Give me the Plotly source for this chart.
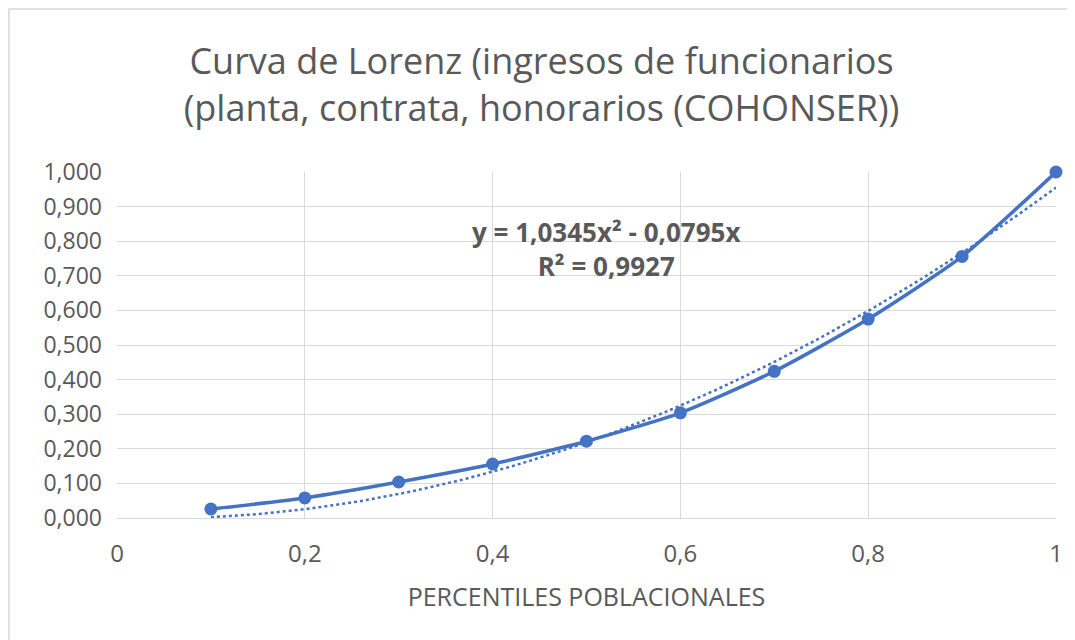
import numpy as np
import plotly.graph_objects as go

# Curva de Lorenz: percentiles poblacionales vs ingreso acumulado
PERCENTILES = [0.1, 0.2, 0.3, 0.4, 0.5, 0.6, 0.7, 0.8, 0.9, 1.0]
INGRESO_ACUM = [0.026, 0.058, 0.104, 0.156, 0.222, 0.304, 0.424, 0.575, 0.756, 1.000]

# Coeficientes de la línea de tendencia polinómica (mostrados en el gráfico)
COEF_A = 1.0345
COEF_B = -0.0795
R2 = 0.9927

AZUL = "#4472C4"
GRIS = "#595959"
FUENTE = "Open Sans"

x_tend = np.linspace(PERCENTILES[0], PERCENTILES[-1], 100)
y_tend = COEF_A * x_tend ** 2 + COEF_B * x_tend

fig = go.Figure()

fig.add_trace(go.Scatter(
    x=x_tend, y=y_tend,
    mode="lines",
    line=dict(color=AZUL, width=2.5, dash="dot"),
    hoverinfo="skip",
))

fig.add_trace(go.Scatter(
    x=PERCENTILES, y=INGRESO_ACUM,
    mode="lines+markers",
    line=dict(color=AZUL, width=3.5, shape="spline", smoothing=0.6),
    marker=dict(color=AZUL, size=13),
    cliponaxis=False,
))

fig.add_annotation(
    text=f"y = {COEF_A:.4f}x² - {abs(COEF_B):.4f}x".replace(".", ",")
         + "<br>" + f"R² = {R2:.4f}".replace(".", ","),
    x=0.521, y=0.778, xref="x", yref="y",
    showarrow=False,
    font=dict(family=FUENTE, size=26, color=GRIS, weight="bold"),
    align="center",
)

# Marco exterior del gráfico (solo bordes izquierdo y superior visibles)
fig.add_shape(
    type="rect", xref="paper", yref="paper",
    x0=-0.1151, x1=1.2, y0=-0.6, y1=1.471,
    line=dict(color="#D9D9D9", width=1.5),
    layer="below",
)

# La página añade 8 px de margen: la figura se dibuja desde (8, 8)
fig.update_layout(
    width=1067, height=632,
    margin=dict(l=109, r=15, t=164, b=122),
    paper_bgcolor="white",
    plot_bgcolor="white",
    showlegend=False,
    separators=",.",
    title=dict(
        text="Curva de Lorenz (ingresos de funcionarios<br>(planta, contrata, honorarios (COHONSER))",
        x=0.5, xanchor="center", y=0.895, yanchor="middle",
        font=dict(family=FUENTE, size=36, color=GRIS),
    ),
    font=dict(family=FUENTE, color=GRIS),
)

fig.update_xaxes(
    range=[0, 1], dtick=0.2, tick0=0,
    showgrid=True, gridcolor="#D9D9D9", gridwidth=1,
    zeroline=False, showline=True, linecolor="#D9D9D9",
    ticks="", tickfont=dict(size=24, color=GRIS),
    ticklabelstandoff=14,
    title=dict(text="PERCENTILES POBLACIONALES", font=dict(size=25, color=GRIS), standoff=20),
)
fig.update_yaxes(
    range=[0, 1], dtick=0.1, tick0=0, tickformat=".3f",
    showgrid=True, gridcolor="#D9D9D9", gridwidth=1,
    zeroline=False, showline=False,
    ticks="", tickfont=dict(size=23, color=GRIS),
    ticklabelstandoff=14,
)

fig.write_html("out.html")
